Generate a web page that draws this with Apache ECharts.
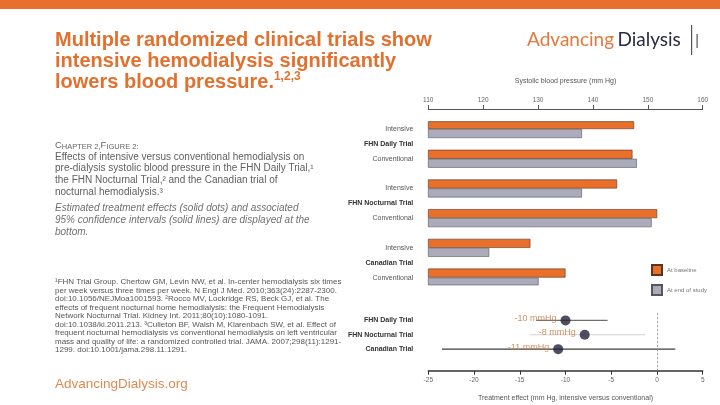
<!DOCTYPE html>
<html><head><meta charset="utf-8">
<script src="https://cdn.jsdelivr.net/npm/echarts@6/dist/echarts.min.js"></script>
<style>html,body{margin:0;padding:0;background:#fff}#c{width:720px;height:405px}</style>
</head><body><div id="c"></div>
<script>
const trials = ["FHN Daily Trial","FHN Nocturnal Trial","Canadian Trial"];
const arms = ["Intensive","Conventional"];
// per trial: [intensive, conventional]
const baselineSBP = [147.5,147.2, 144.4,151.7, 128.6,135.0];
const endSBP = [138.0,148.0, 138.0,150.7, 121.1,130.1];
const sbpTicks = [110,120,130,140,150,160];
const effect = [-10.0,-7.9,-10.8];
const ciLow = [-13.2,-13.9,-23.5];
const ciHigh = [-5.4,-1.3,2.0];
const effectLabels = ["-10 mmHg","-8 mmHg","-11 mmHg"];
const effectTicks = [-25,-20,-15,-10,-5,0,5];
const legendNames = ["At baseline","At end of study"];

const FONT = '"Liberation Sans", Arial, sans-serif';
const ORANGE = '#E8702A', GRAY = '#ABABBB';
const ciColors = ['#6f6f6f','#d2d2d2','#3c3c3c'];

// build row slots: arm / trial label / arm / blank
const slots = [];
trials.forEach((t,ti)=>{
  slots.push({label:arms[0], idx:ti*2});
  slots.push({label:t, trial:true});
  slots.push({label:arms[1], idx:ti*2+1});
  if (ti < trials.length-1) slots.push({label:''});
});
const slotCats = slots.map((s,i)=>String(i));
const baseData = slots.map(s => s.idx!=null ? baselineSBP[s.idx] : '-');
const endData = slots.map(s => s.idx!=null ? endSBP[s.idx] : '-');

const chart = echarts.init(document.getElementById('c'), null, {renderer:'canvas'});

const captionLines = [
 "Effects of intensive versus conventional hemodialysis on",
 "pre-dialysis systolic blood pressure in the FHN Daily Trial,\u00b9",
 "the FHN Nocturnal Trial,\u00b2 and the Canadian trial of",
 "nocturnal hemodialysis.\u00b3"
];
const italicLines = [
 "Estimated treatment effects (solid dots) and associated",
 "95% confidence intervals (solid lines) are displayed at the",
 "bottom."
];
const footLines = [
 "\u00b9FHN Trial Group. Chertow GM, Levin NW, et al. In-center hemodialysis six times",
 "per week versus three times per week. N Engl J Med. 2010;363(24):2287-2300.",
 "doi:10.1056/NEJMoa1001593. \u00b2Rocco MV, Lockridge RS, Beck GJ, et al. The",
 "effects of frequent nocturnal home hemodialysis: the Frequent Hemodialysis",
 "Network Nocturnal Trial. Kidney Int. 2011;80(10):1080-1091.",
 "doi:10.1038/ki.2011.213. \u00b3Culleton BF, Walsh M, Klarenbach SW, et al. Effect of",
 "frequent nocturnal hemodialysis vs conventional hemodialysis on left ventricular",
 "mass and quality of life: a randomized controlled trial. JAMA. 2007;298(11):1291-",
 "1299. doi:10.1001/jama.298.11.1291."
];

const TITLE_C = '#E2702E';
const graphics = [
  {type:'rect', shape:{x:0,y:0,width:720,height:9}, style:{fill:ORANGE}},
  {type:'text', x:55, y:40, style:{text:'Multiple randomized clinical trials show', font:'bold 20px '+FONT, fill:TITLE_C, verticalAlign:'middle'}},
  {type:'text', x:55, y:61, style:{text:'intensive hemodialysis significantly', font:'bold 20px '+FONT, fill:TITLE_C, verticalAlign:'middle'}},
  {type:'text', x:55, y:82, style:{text:'{m|lowers blood pressure.}{s|1,2,3}', verticalAlign:'middle',
     rich:{m:{fontFamily:FONT,fontWeight:'bold',fontSize:20,fill:TITLE_C,lineHeight:22},
           s:{fontFamily:FONT,fontWeight:'bold',fontSize:12,fill:TITLE_C,verticalAlign:'top'}}}},
  {type:'text', x:527, y:40, style:{text:'{a|Advancing} {b|Dialysis}', verticalAlign:'middle',
     rich:{a:{fontFamily:'Lato',fontSize:19,fill:'#E27A3E'}, b:{fontFamily:'Lato',fontSize:19,fill:'#2B2B40'}}}},
  {type:'rect', shape:{x:691,y:25,width:1.2,height:30}, style:{fill:'#555'}},
  {type:'rect', shape:{x:696.5,y:34,width:1.2,height:14}, style:{fill:'#555'}},
  {type:'text', x:55, y:145, style:{text:'{l|C}{s|HAPTER 2,}{l|F}{s|IGURE 2:}', verticalAlign:'middle',
     rich:{l:{fontFamily:FONT,fontSize:9.5,fill:'#666',verticalAlign:'bottom',lineHeight:11},
           s:{fontFamily:FONT,fontSize:7.5,fill:'#666',verticalAlign:'bottom',lineHeight:11}}}},
  {type:'text', x:55, y:384, style:{text:'AdvancingDialysis.org', font:'13.5px '+FONT, fill:'#DB8A52', verticalAlign:'middle'}}
];
captionLines.forEach((t,i)=>graphics.push({type:'text', x:55, y:157+i*11.7, style:{text:t, font:'10px '+FONT, fill:'#606060', verticalAlign:'middle'}}));
italicLines.forEach((t,i)=>graphics.push({type:'text', x:55, y:208+i*12, style:{text:t, font:'italic 10px '+FONT, fill:'#707070', verticalAlign:'middle'}}));
footLines.forEach((t,i)=>graphics.push({type:'text', x:55, y:282+i*8.5, style:{text:t, font:'8px '+FONT, fill:'#555', verticalAlign:'middle'}}));

const option = {
  animation:false,
  textStyle:{fontFamily:FONT},
  legend:{
    data:legendNames, orient:'vertical', left:646, top:259, itemWidth:10, itemHeight:10, itemGap:8,
    icon:'rect', textStyle:{fontSize:6, color:'#777', fontFamily:FONT}
  },
  grid:[
    {left:428.3, right:17.3, top:121.6, height:163.4},
    {left:428.3, right:17.3, top:313.2, height:57.5}
  ],
  xAxis:[
    {gridIndex:0, type:'value', position:'top', offset:12.6,
     min:sbpTicks[0], max:sbpTicks[sbpTicks.length-1], interval:sbpTicks[1]-sbpTicks[0],
     name:'Systolic blood pressure (mm Hg)', nameLocation:'middle', nameGap:24,
     nameTextStyle:{fontSize:7, color:'#555'},
     axisLine:{show:true, lineStyle:{color:'#555', width:1}},
     axisTick:{show:true, length:4, lineStyle:{color:'#555'}},
     axisLabel:{fontSize:6.5, color:'#666', margin:5},
     splitLine:{show:false}},
    {gridIndex:1, type:'value', position:'bottom',
     min:effectTicks[0], max:effectTicks[effectTicks.length-1], interval:effectTicks[1]-effectTicks[0],
     name:'Treatment effect (mm Hg, intensive versus conventional)', nameLocation:'middle', nameGap:24,
     nameTextStyle:{fontSize:7, color:'#555'},
     axisLine:{show:true, lineStyle:{color:'#333', width:1.5}},
     axisTick:{show:true, length:4, lineStyle:{color:'#333'}},
     axisLabel:{fontSize:6.5, color:'#666', margin:6},
     splitLine:{show:false}}
  ],
  yAxis:[
    {gridIndex:0, type:'category', inverse:true, data:slotCats,
     axisLine:{show:false}, axisTick:{show:false}, splitLine:{show:false},
     axisLabel:{margin:15, interval:0,
       formatter:(v,i)=> slots[i].trial ? '{t|'+slots[i].label+'}' : (slots[i].label ? '{a|'+slots[i].label+'}' : ''),
       rich:{t:{fontSize:7, fontWeight:'bold', color:'#333', fontFamily:FONT},
             a:{fontSize:7, color:'#555', fontFamily:FONT}}}},
    {gridIndex:1, type:'category', inverse:true, data:trials.concat(['']),
     axisLine:{show:false}, axisTick:{show:false}, splitLine:{show:false},
     axisLabel:{margin:15, interval:0, fontSize:7, fontWeight:'bold', color:'#333'}}
  ],
  series:[
    {name:legendNames[0], type:'bar', xAxisIndex:0, yAxisIndex:0, data:baseData,
     barWidth:9, barGap:'0%', itemStyle:{color:ORANGE, borderColor:'#5a3424', borderWidth:0.6}},
    {name:legendNames[1], type:'bar', xAxisIndex:0, yAxisIndex:0, data:endData,
     barWidth:9, barGap:'0%', itemStyle:{color:GRAY, borderColor:'#55555f', borderWidth:0.6}},
    {type:'custom', xAxisIndex:1, yAxisIndex:1, z:2,
     data:trials.map((t,i)=>[ciLow[i], ciHigh[i], i]),
     encode:{x:[0,1], y:2},
     renderItem:(params, api)=>{
       const i = params.dataIndex;
       const a = api.coord([api.value(0), api.value(2)]);
       const b = api.coord([api.value(1), api.value(2)]);
       return {type:'line', shape:{x1:a[0],y1:a[1],x2:b[0],y2:b[1]}, style:{stroke:ciColors[i], lineWidth:1.2}};
     }},
    {type:'scatter', xAxisIndex:1, yAxisIndex:1, z:5,
     data:effect.map((v,i)=>[v,i]), symbolSize:10, itemStyle:{color:'#23233a'},
     label:{show:true, position:'left', distance:4, offset:[0,-2],
       formatter:(p)=>effectLabels[p.dataIndex], fontSize:9, color:'#C0743A', fontFamily:FONT},
     markLine:{silent:true, symbol:'none', label:{show:false},
       lineStyle:{type:[2,2], color:'#999', width:1}, data:[{xAxis:0}]}}
  ],
  graphic:graphics
};
chart.setOption(option);
</script>
</body></html>
